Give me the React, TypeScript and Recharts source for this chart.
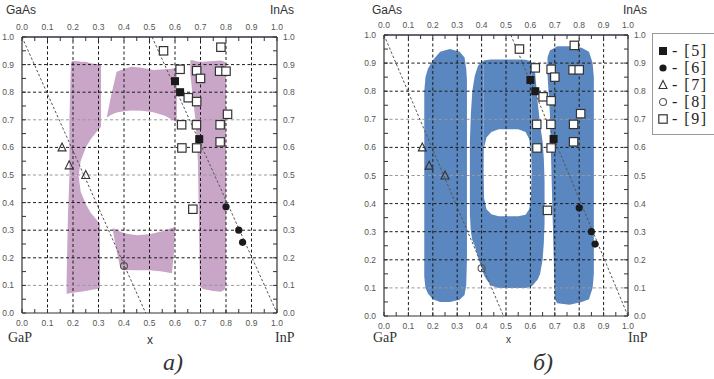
import React from "react";
import {
  Area,
  ComposedChart,
  Legend,
  Line,
  ReferenceLine,
  Scatter,
  XAxis,
  YAxis,
} from "recharts";

// axis ticks (minor every 0.05, labels only on the tenths)
const axisTicks = [
  0, 0.05, 0.1, 0.15, 0.2, 0.25, 0.3, 0.35, 0.4, 0.45, 0.5, 0.55, 0.6, 0.65,
  0.7, 0.75, 0.8, 0.85, 0.9, 0.95, 1,
];
const gridTicks = [0.1, 0.2, 0.3, 0.4, 0.5, 0.6, 0.7, 0.8, 0.9];
const lightRows = [0.1, 0.5, 0.7];

// literature points, same in both panels
const ref5 = [
  { x: 0.6, y: 0.84 },
  { x: 0.62, y: 0.8 },
  { x: 0.695, y: 0.63 },
];
const ref6 = [
  { x: 0.8, y: 0.385 },
  { x: 0.85, y: 0.3 },
  { x: 0.865, y: 0.256 },
];
const ref7 = [
  { x: 0.157, y: 0.6 },
  { x: 0.185, y: 0.535 },
  { x: 0.25, y: 0.5 },
];
const ref8 = [{ x: 0.4, y: 0.17 }];
const ref9 = [
  { x: 0.555, y: 0.95 },
  { x: 0.78, y: 0.963 },
  { x: 0.62, y: 0.883 },
  { x: 0.685, y: 0.878 },
  { x: 0.7, y: 0.85 },
  { x: 0.775, y: 0.876 },
  { x: 0.8, y: 0.876 },
  { x: 0.652, y: 0.78 },
  { x: 0.685, y: 0.766 },
  { x: 0.806, y: 0.72 },
  { x: 0.626, y: 0.682 },
  { x: 0.684, y: 0.682 },
  { x: 0.777, y: 0.682 },
  { x: 0.627, y: 0.598 },
  { x: 0.685, y: 0.598 },
  { x: 0.777, y: 0.62 },
  { x: 0.67, y: 0.376 },
];
const legendLabels = ["[5]", "[6]", "[7]", "[8]", "[9]"];

// dashed guide lines
const aGuideLeft = [
  { x: 0, y: 1 },
  { x: 0.485, y: 0 },
];
const aGuideRight = [
  { x: 0.51, y: 1 },
  { x: 1, y: 0 },
];
const bGuideLeft = [
  { x: 0, y: 1 },
  { x: 0.49, y: 0 },
];
const bGuideRight = [
  { x: 0.52, y: 1 },
  { x: 1, y: 0 },
];

// panel a) regions, [low, high] per x
const aLeftTop = [
  { x: 0.186, r: [0.497, 0.7] },
  { x: 0.192, r: [0.497, 0.905] },
  { x: 0.196, r: [0.497, 0.913] },
  { x: 0.222, r: [0.497, 0.912] },
  { x: 0.23, r: [0.55, 0.91] },
  { x: 0.25, r: [0.6, 0.91] },
  { x: 0.27, r: [0.63, 0.905] },
  { x: 0.3, r: [0.665, 0.9] },
  { x: 0.31, r: [0.675, 0.9] },
];
const aLeftBottom = [
  { x: 0.175, r: [0.07, 0.12] },
  { x: 0.18, r: [0.07, 0.35] },
  { x: 0.186, r: [0.072, 0.497] },
  { x: 0.222, r: [0.076, 0.497] },
  { x: 0.23, r: [0.077, 0.44] },
  { x: 0.25, r: [0.08, 0.395] },
  { x: 0.27, r: [0.083, 0.362] },
  { x: 0.3, r: [0.088, 0.33] },
  { x: 0.306, r: [0.09, 0.325] },
];
const aTop = [
  { x: 0.333, r: [0.708, 0.712] },
  { x: 0.35, r: [0.718, 0.79] },
  { x: 0.371, r: [0.726, 0.874] },
  { x: 0.4, r: [0.731, 0.884] },
  { x: 0.43, r: [0.734, 0.892] },
  { x: 0.47, r: [0.733, 0.889] },
  { x: 0.515, r: [0.727, 0.88] },
  { x: 0.56, r: [0.715, 0.883] },
  { x: 0.6, r: [0.695, 0.886] },
  { x: 0.607, r: [0.69, 0.88] },
];
const aBottom = [
  { x: 0.356, r: [0.3, 0.308] },
  { x: 0.37, r: [0.23, 0.302] },
  { x: 0.385, r: [0.165, 0.295] },
  { x: 0.4, r: [0.156, 0.289] },
  { x: 0.45, r: [0.155, 0.282] },
  { x: 0.5, r: [0.155, 0.285] },
  { x: 0.55, r: [0.15, 0.296] },
  { x: 0.588, r: [0.144, 0.308] },
  { x: 0.596, r: [0.22, 0.311] },
  { x: 0.6, r: [0.3, 0.313] },
];
const aRight = [
  { x: 0.66, r: [0.87, 0.916] },
  { x: 0.67, r: [0.78, 0.916] },
  { x: 0.68, r: [0.7, 0.913] },
  { x: 0.69, r: [0.55, 0.911] },
  { x: 0.698, r: [0.095, 0.91] },
  { x: 0.71, r: [0.087, 0.91] },
  { x: 0.75, r: [0.08, 0.913] },
  { x: 0.78, r: [0.077, 0.915] },
  { x: 0.795, r: [0.085, 0.91] },
  { x: 0.8, r: [0.1, 0.9] },
];

// panel б) regions
const bLeft = [
  { x: 0.165, r: [0.14, 0.8] },
  { x: 0.17, r: [0.1, 0.85] },
  { x: 0.18, r: [0.08, 0.88] },
  { x: 0.2, r: [0.06, 0.91] },
  { x: 0.23, r: [0.05, 0.94] },
  { x: 0.27, r: [0.05, 0.95] },
  { x: 0.31, r: [0.058, 0.94] },
  { x: 0.33, r: [0.075, 0.92] },
  { x: 0.337, r: [0.11, 0.88] },
  { x: 0.34, r: [0.2, 0.84] },
];
const bMidLower = [
  { x: 0.352, r: [0.36, 0.62] },
  { x: 0.356, r: [0.3, 0.72] },
  { x: 0.362, r: [0.27, 0.8] },
  { x: 0.372, r: [0.25, 0.855] },
  { x: 0.385, r: [0.21, 0.89] },
  { x: 0.4, r: [0.17, 0.905] },
  { x: 0.408, r: [0.15, 0.908] },
  { x: 0.408, r: [0.15, 0.51] },
  { x: 0.41, r: [0.145, 0.42] },
  { x: 0.42, r: [0.13, 0.38] },
  { x: 0.44, r: [0.108, 0.362] },
  { x: 0.47, r: [0.1, 0.355] },
  { x: 0.55, r: [0.1, 0.355] },
  { x: 0.58, r: [0.1, 0.36] },
  { x: 0.595, r: [0.103, 0.38] },
  { x: 0.602, r: [0.105, 0.42] },
  { x: 0.605, r: [0.106, 0.51] },
  { x: 0.605, r: [0.106, 0.904] },
  { x: 0.613, r: [0.112, 0.895] },
  { x: 0.62, r: [0.12, 0.86] },
  { x: 0.63, r: [0.13, 0.76] },
  { x: 0.64, r: [0.15, 0.68] },
  { x: 0.65, r: [0.2, 0.62] },
  { x: 0.655, r: [0.26, 0.56] },
  { x: 0.658, r: [0.33, 0.48] },
];
const bMidUpper = [
  { x: 0.408, r: [0.51, 0.908] },
  { x: 0.41, r: [0.6, 0.909] },
  { x: 0.42, r: [0.635, 0.911] },
  { x: 0.44, r: [0.655, 0.913] },
  { x: 0.47, r: [0.665, 0.913] },
  { x: 0.55, r: [0.665, 0.913] },
  { x: 0.58, r: [0.655, 0.912] },
  { x: 0.595, r: [0.63, 0.908] },
  { x: 0.602, r: [0.59, 0.905] },
  { x: 0.605, r: [0.51, 0.904] },
];
const bRight = [
  { x: 0.67, r: [0.86, 0.92] },
  { x: 0.68, r: [0.72, 0.945] },
  { x: 0.7, r: [0.06, 0.955] },
  { x: 0.71, r: [0.045, 0.96] },
  { x: 0.76, r: [0.04, 0.96] },
  { x: 0.81, r: [0.05, 0.955] },
  { x: 0.84, r: [0.06, 0.94] },
  { x: 0.855, r: [0.1, 0.9] },
  { x: 0.86, r: [0.15, 0.85] },
];

const INK = "#1a1a1a";
const SANS = "'Liberation Sans', Arial, sans-serif";
const SERIF = "'Liberation Serif', 'Times New Roman', serif";

type M = { cx?: number; cy?: number };
const FilledSquare = ({ cx = 0, cy = 0 }: M) => (
  <rect x={cx - 4} y={cy - 4} width={8} height={8} fill={INK} />
);
const FilledDot = ({ cx = 0, cy = 0 }: M) => <circle cx={cx} cy={cy} r={3.6} fill={INK} />;
const Delta = ({ cx = 0, cy = 0 }: M) => (
  <polygon
    points={`${cx},${cy - 4.5} ${cx - 4},${cy + 3.5} ${cx + 4},${cy + 3.5}`}
    fill="none"
    stroke="#333"
    strokeWidth={1.1}
  />
);
const OpenDot = ({ cx = 0, cy = 0 }: M) => (
  <circle cx={cx} cy={cy} r={3.5} fill="none" stroke="#555" strokeWidth={1.1} />
);
const OpenSquare = ({ cx = 0, cy = 0 }: M) => (
  <rect x={cx - 4.2} y={cy - 4.2} width={8.4} height={8.4} fill="#fff" stroke="#333" strokeWidth={1.2} />
);
const legendMarks = [FilledSquare, FilledDot, Delta, OpenDot, OpenSquare];

const isMajor = (v: number) => Math.abs(v * 10 - Math.round(v * 10)) < 1e-6;
const fmt = (v: number) => (isMajor(v) ? v.toFixed(1) : "");
const tickStyle = { fontSize: 8.5, fill: "#555", fontFamily: SANS };

function LegendBox() {
  return (
    <div
      style={{
        width: 64,
        height: 102,
        border: "1px solid #999",
        background: "#fff",
        boxSizing: "border-box",
        paddingTop: 8,
        paddingLeft: 4,
      }}
    >
      {legendLabels.map((lab, i) => {
        const Mark = legendMarks[i];
        return (
          <div
            key={lab}
            style={{
              display: "flex",
              alignItems: "center",
              height: 17,
              lineHeight: "16px",
              fontFamily: SERIF,
              fontSize: 16,
              color: "#222",
              letterSpacing: 1.5,
            }}
          >
            <svg width={12} height={12}>
              <Mark cx={6} cy={6} />
            </svg>
            <span style={{ marginLeft: 3 }}>- {lab}</span>
          </div>
        );
      })}
    </div>
  );
}

type PanelProps = {
  left: number;
  width: number;
  height: number;
  margin: { top: number; right: number; bottom: number; left: number };
  regions: { x: number; r: number[] }[][];
  fill: string;
  guides: { x: number; y: number }[][];
  legend?: boolean;
};

function Panel({ left, width, height, margin, regions, fill, guides, legend }: PanelProps) {
  return (
    <div style={{ position: "absolute", left, top: 0 }}>
      <ComposedChart width={width} height={height} margin={margin}>
        <XAxis
          dataKey="x"
          type="number"
          domain={[0, 1]}
          allowDataOverflow
          ticks={axisTicks}
          interval={0}
          tickFormatter={fmt}
          tick={tickStyle}
          tickSize={-4}
          tickMargin={11}
          tickLine={{ stroke: "#333" }}
          axisLine={{ stroke: "#333", strokeWidth: 1.2 }}
          height={17}
        />
        <XAxis
          xAxisId="top"
          orientation="top"
          dataKey="x"
          type="number"
          domain={[0, 1]}
          allowDataOverflow
          ticks={axisTicks}
          interval={0}
          tickFormatter={fmt}
          tick={tickStyle}
          tickSize={-4}
          tickMargin={11}
          tickLine={{ stroke: "#333" }}
          axisLine={{ stroke: "#334", strokeWidth: 1.4 }}
          height={20}
        />
        <YAxis
          dataKey="y"
          type="number"
          domain={[0, 1]}
          allowDataOverflow
          ticks={axisTicks}
          interval={0}
          tickFormatter={fmt}
          tick={tickStyle}
          tickSize={-4}
          tickMargin={12}
          tickLine={{ stroke: "#333" }}
          axisLine={{ stroke: "#333", strokeWidth: 1.2 }}
          width={22}
        />
        <YAxis
          yAxisId="right"
          orientation="right"
          dataKey="y"
          type="number"
          domain={[0, 1]}
          allowDataOverflow
          ticks={axisTicks}
          interval={0}
          tickFormatter={fmt}
          tick={{ ...tickStyle, textAnchor: "start" }}
          tickSize={-4}
          tickMargin={10}
          tickLine={{ stroke: "#333" }}
          axisLine={{ stroke: "#333", strokeWidth: 1.2 }}
          width={28}
        />
        {regions.map((d, i) => (
          <Area
            key={`reg${i}`}
            data={d}
            dataKey="r"
            type="linear"
            fill={fill}
            fillOpacity={1}
            stroke="none"
            isAnimationActive={false}
            activeDot={false}
          />
        ))}
        {gridTicks.map((g) => (
          <ReferenceLine key={`gx${g}`} x={g} stroke="#1a1a1a" strokeDasharray="3 2.5" strokeWidth={1} />
        ))}
        {gridTicks.map((g) => (
          <ReferenceLine
            key={`gy${g}`}
            y={g}
            stroke={lightRows.includes(g) ? "#999" : "#1a1a1a"}
            strokeDasharray="3 2.5"
            strokeWidth={1}
          />
        ))}
        {guides.map((d, i) => (
          <Line
            key={`guide${i}`}
            data={d}
            dataKey="y"
            type="linear"
            stroke="#555"
            strokeWidth={1}
            strokeDasharray="2.5 2"
            dot={false}
            activeDot={false}
            isAnimationActive={false}
          />
        ))}
        <Scatter name="[5]" data={ref5} dataKey="y" isAnimationActive={false} shape={(p: any) => <FilledSquare cx={p.cx} cy={p.cy} />} />
        <Scatter name="[6]" data={ref6} dataKey="y" isAnimationActive={false} shape={(p: any) => <FilledDot cx={p.cx} cy={p.cy} />} />
        <Scatter name="[7]" data={ref7} dataKey="y" isAnimationActive={false} shape={(p: any) => <Delta cx={p.cx} cy={p.cy} />} />
        <Scatter name="[8]" data={ref8} dataKey="y" isAnimationActive={false} shape={(p: any) => <OpenDot cx={p.cx} cy={p.cy} />} />
        <Scatter name="[9]" data={ref9} dataKey="y" isAnimationActive={false} shape={(p: any) => <OpenSquare cx={p.cx} cy={p.cy} />} />
        {legend && (
          <Legend
            layout="vertical"
            align="center"
            verticalAlign="middle"
            content={() => <LegendBox />}
            wrapperStyle={{ left: 290, top: 33, width: 64, height: 102 }}
          />
        )}
      </ComposedChart>
    </div>
  );
}

function Tag({ left, top, size, font, italic, children }: any) {
  return (
    <span
      style={{
        position: "absolute",
        left,
        top,
        fontSize: size,
        fontFamily: font,
        fontStyle: italic ? "italic" : "normal",
        lineHeight: 1,
        color: "#333",
        whiteSpace: "nowrap",
      }}
    >
      {children}
    </span>
  );
}

export default function App() {
  return (
    <div style={{ position: "absolute", left: 0, top: 0, width: 714, height: 379, background: "#fff", overflow: "hidden" }}>
      <Panel
        left={0}
        width={310}
        height={340}
        margin={{ top: 17, right: 5, bottom: 10, left: 0 }}
        regions={[aLeftTop, aLeftBottom, aTop, aBottom, aRight]}
        fill="#c9a5c8"
        guides={[aGuideLeft, aGuideRight]}
      />
      <Panel
        left={362}
        width={352}
        height={345}
        margin={{ top: 15, right: 58, bottom: 12, left: 0 }}
        regions={[bLeft, bMidLower, bMidUpper, bRight]}
        fill="#5a87bf"
        guides={[bGuideLeft, bGuideRight]}
        legend
      />
      <Tag left={6} top={4} size={12} font={SANS}>GaAs</Tag>
      <Tag left={270} top={4} size={12} font={SANS}>InAs</Tag>
      <Tag left={8} top={331} size={14} font={SERIF}>GaP</Tag>
      <Tag left={275} top={331} size={14} font={SERIF}>InP</Tag>
      <Tag left={147} top={334} size={12} font={SANS}>x</Tag>
      <Tag left={163} top={350} size={24} font={SERIF} italic>а)</Tag>
      <Tag left={372} top={4} size={12} font={SANS}>GaAs</Tag>
      <Tag left={623} top={4} size={12} font={SANS}>InAs</Tag>
      <Tag left={373} top={331} size={14} font={SERIF}>GaP</Tag>
      <Tag left={628} top={331} size={14} font={SERIF}>InP</Tag>
      <Tag left={506} top={335} size={10} font={SANS}>x</Tag>
      <Tag left={533} top={350} size={24} font={SERIF} italic>б)</Tag>
    </div>
  );
}
